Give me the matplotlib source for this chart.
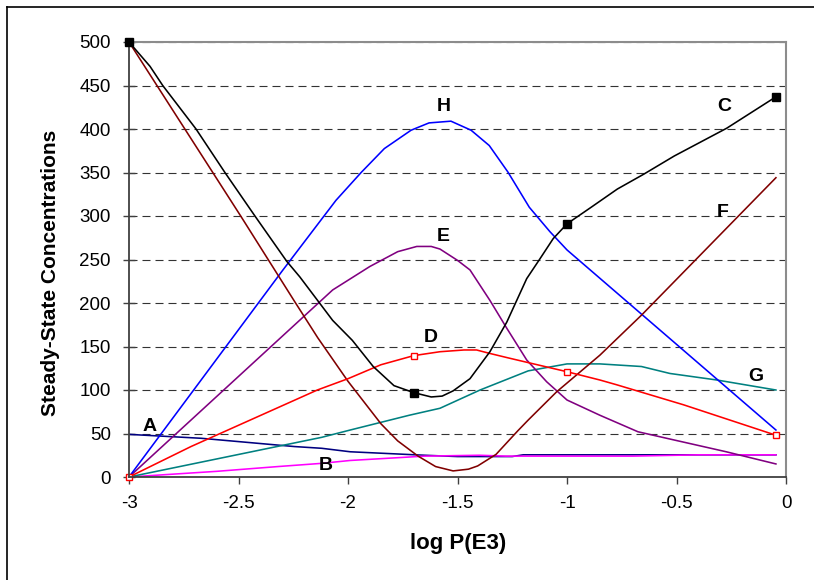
import matplotlib
matplotlib.use("Agg")
import matplotlib.pyplot as plt
from matplotlib.lines import Line2D

plt.rcParams['font.family'] = ['Liberation Sans', 'DejaVu Sans']

# ---- data ----
A_x = [-3, -2.67, -2.245, -2.12, -1.99, -1.65, -1.5, -1.25, -1.2, -0.046]
A_y = [49, 44.5, 35, 33, 29, 25, 23.5, 23.5, 25.5, 25.5]

B_x = [-3, -2.6, -2.32, -2.12, -1.99, -1.65, -1.4, -1.28, -0.7, -0.4, -0.046]
B_y = [0, 6.5, 12, 15.7, 19, 24, 25, 24, 24, 25.5, 25.5]

C_x = [-3, -2.904, -2.846, -2.694, -2.562, -2.425, -2.28, -2.22, -2.07, -1.98,
       -1.885, -1.79, -1.7, -1.62, -1.57, -1.52, -1.443, -1.352, -1.275, -1.184,
       -1.123, -1.063, -1.0, -0.89, -0.77, -0.65, -0.51, -0.27, -0.046]
C_y = [500, 472, 450, 400, 350, 300, 248, 230, 180, 157,
       127, 105, 97, 92, 93, 99, 113, 144, 178, 228,
       251, 274, 291, 310, 331, 348, 369, 401, 437]
C_marks = [-3, -1.7, -1.0, -0.046]

D_x = [-3, -2.717, -2.14, -2.0, -1.85, -1.7, -1.58, -1.47, -1.413, -1.352,
       -1.27, -1.169, -1.0, -0.85, -0.773, -0.468, -0.046]
D_y = [0, 35, 100, 113, 129, 139.5, 144, 146, 146, 142,
       137, 131, 121, 111.5, 106, 83, 48]
D_marks = [-3, -1.7, -1.0, -0.046]

E_x = [-3, -2.07, -1.90, -1.773, -1.686, -1.62, -1.58, -1.50, -1.443, -1.352,
       -1.275, -1.184, -1.093, -1.0, -0.85, -0.676, -0.51, -0.273, -0.046]
E_y = [0, 215, 242, 259, 265, 265, 262, 249, 238, 203,
       171, 134.5, 109.5, 88.5, 71, 52, 42.5, 29, 15]

F_x = [-3, -2.49, -2.247, -2.138, -2.0, -1.849, -1.773, -1.68, -1.60, -1.52,
       -1.45, -1.408, -1.324, -1.225, -1.177, -1.047, -1.0, -0.85, -0.66, -0.046]
F_y = [500, 300, 203, 160, 110, 61, 41.5, 24, 12, 7,
       9, 12.7, 26, 53, 65.5, 98, 108, 140, 186, 344]

G_x = [-3, -2.12, -1.99, -1.72, -1.58, -1.397, -1.177, -1.0, -0.85, -0.66,
       -0.53, -0.316, -0.046]
G_y = [0, 45.6, 54, 71, 79, 100, 122, 130, 130, 127, 119, 111.5, 100]

H_x = [-3, -2.3, -2.055, -1.94, -1.834, -1.712, -1.63, -1.53, -1.438, -1.355,
       -1.27, -1.172, -1.078, -1.0, -0.046]
H_y = [0, 237, 318, 350, 377.5, 398.6, 407, 409, 398.6, 381,
       350.6, 310, 282, 261, 54]

labels = ['A', 'B', 'C', 'D', 'E', 'F', 'G', 'H']
label_x = [-2.904, -2.10, -0.283, -1.623, -1.566, -0.288, -0.137, -1.562]
label_y = [58.6, 13, 426.4, 160, 276, 304, 116, 426]

x_ticks = [-3, -2.5, -2, -1.5, -1, -0.5, 0]
x_tick_labels = ['-3', '-2.5', '-2', '-1.5', '-1', '-0.5', '0']
y_ticks = [0, 50, 100, 150, 200, 250, 300, 350, 400, 450, 500]

# ---- figure ----
fig = plt.figure(figsize=(8.14, 5.8), dpi=100)
ax = fig.add_axes([129 / 814, 1 - 477 / 580, (786 - 129) / 814, (477 - 42) / 580])

lw = 1.15
ax.plot(A_x, A_y, color='#000080', lw=lw)
ax.plot(B_x, B_y, color='#FF00FF', lw=lw)
ax.plot(G_x, G_y, color='#008080', lw=lw)
ax.plot(E_x, E_y, color='#800080', lw=lw)
ax.plot(H_x, H_y, color='#0000FF', lw=lw)
ax.plot(F_x, F_y, color='#800000', lw=lw)
ax.plot(D_x, D_y, color='#FF0000', lw=lw,
        marker='s', markevery=[D_x.index(v) for v in D_marks],
        markersize=5, markerfacecolor='white', markeredgecolor='#FF0000',
        markeredgewidth=1.0, clip_on=False)
ax.plot(C_x, C_y, color='black', lw=lw,
        marker='s', markevery=[C_x.index(v) for v in C_marks],
        markersize=5.5, markerfacecolor='black', markeredgecolor='black',
        clip_on=False, zorder=5)

for lab, lx, ly in zip(labels, label_x, label_y):
    ax.text(lx, ly, lab, ha='center', va='center', fontsize=14,
            fontweight='bold', color='black')

ax.set_xlim(-3, 0)
ax.set_ylim(0, 500)
ax.set_xticks(x_ticks)
ax.set_xticklabels(x_tick_labels)
ax.set_yticks(y_ticks)

ax.grid(axis='y', color='#333333', linestyle=(0, (7.2, 4.5)), linewidth=0.8)
ax.set_axisbelow(True)

for s in ['left', 'bottom']:
    ax.spines[s].set_color('#404040')
    ax.spines[s].set_linewidth(1.3)
for s in ['top', 'right']:
    ax.spines[s].set_color('#8c8c8c')
    ax.spines[s].set_linewidth(1.5)

ax.tick_params(axis='y', direction='inout', length=8, width=1, color='#404040',
               labelsize=13.5, pad=9)
ax.tick_params(axis='x', direction='out', length=5, width=1, color='#404040',
               labelsize=13.5, pad=8)

fig.text(458 / 814, 1 - 544 / 580, 'log P(E3)', ha='center', va='center',
         fontsize=16, fontweight='bold')
fig.text(51 / 814, 1 - 273 / 580, 'Steady-State Concentrations', ha='center',
         va='center', rotation=90, fontsize=15, fontweight='bold')

# outer frame (left and top edges)
fig.add_artist(Line2D([7 / 814, 7 / 814], [0, 1 - 7 / 580], color='black',
                      lw=1.2, transform=fig.transFigure))
fig.add_artist(Line2D([7 / 814, 1], [1 - 7 / 580, 1 - 7 / 580], color='black',
                      lw=1.2, transform=fig.transFigure))

fig.savefig('out.png', dpi=100)
